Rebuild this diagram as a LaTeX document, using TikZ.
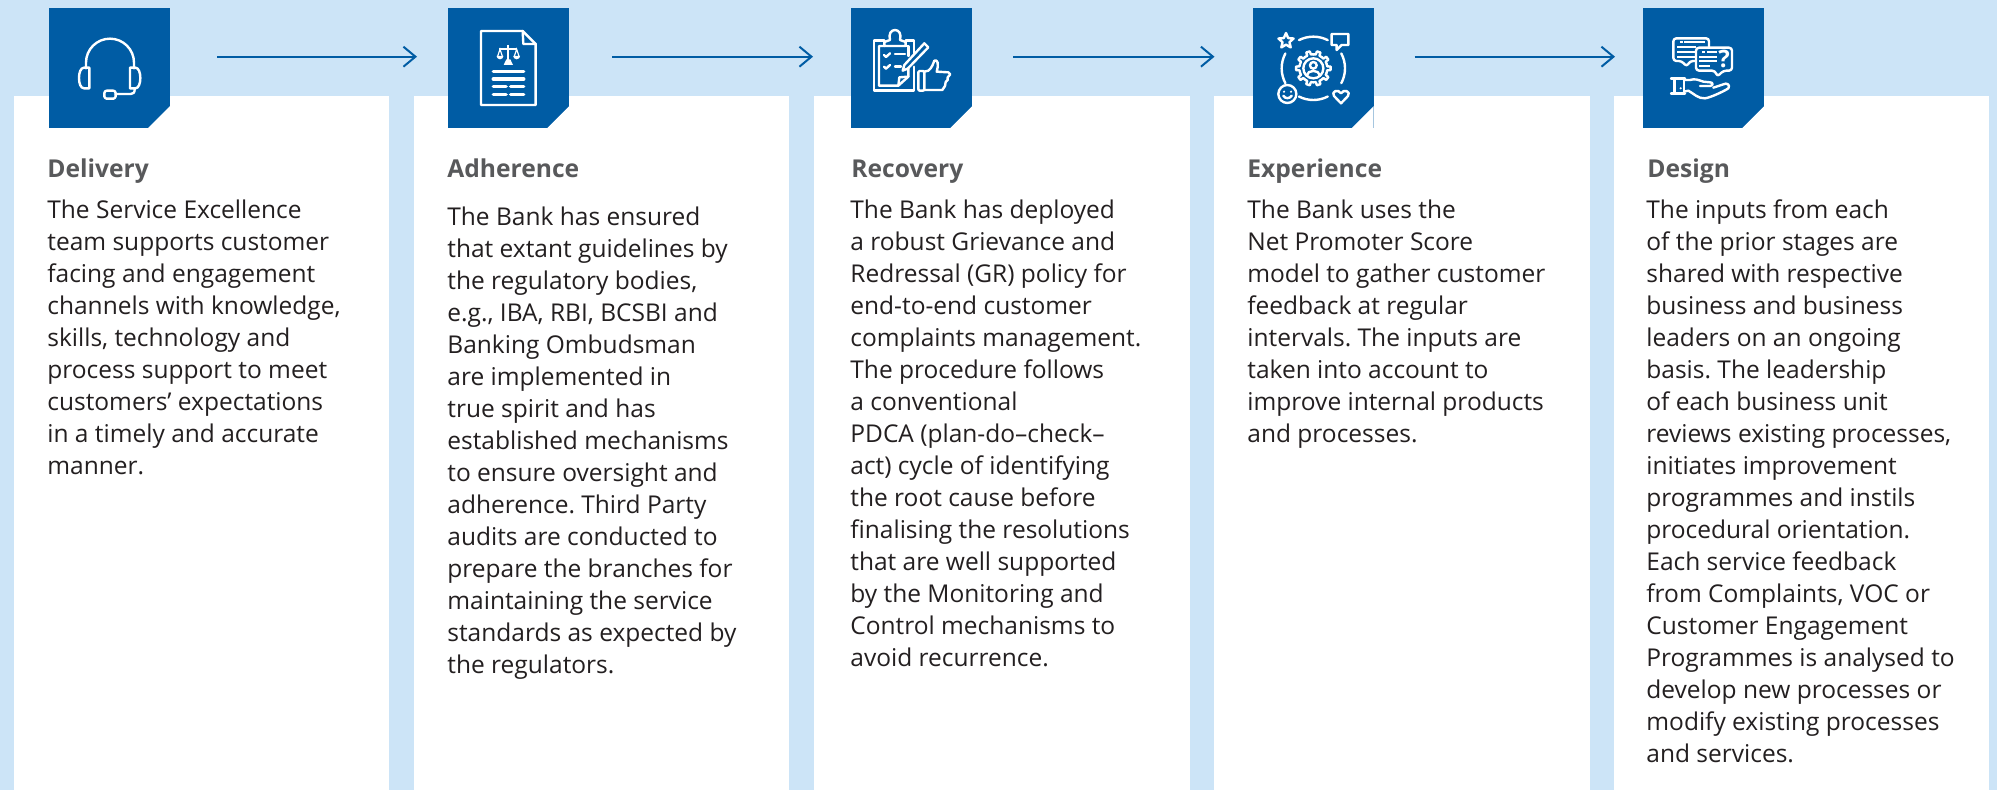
\documentclass[tikz,border=0pt]{standalone}
\usepackage{fontspec}
\setmainfont{Open Sans}
\usetikzlibrary{arrows.meta}
\definecolor{iconblue}{HTML}{005CA4}
\definecolor{skyblue}{HTML}{CCE4F7}
\definecolor{headgrey}{HTML}{58595B}
\definecolor{bodyblack}{HTML}{231F20}
\tikzset{
  iconbox/.style={rectangle, fill=iconblue, draw=none, minimum width=60.5pt, minimum height=60.25pt, inner sep=0pt, outer sep=0pt,
    path picture={\fill[white] (path picture bounding box.south east) ++(-12pt,-1pt) -- ++(13pt,13pt) -- ++(0pt,-13pt) -- cycle;}},
  flowline/.style={iconblue, line width=1pt, -{Straight Barb[length=6pt,width=10pt,line width=1pt]}},
  headtext/.style={anchor=base west, inner sep=0pt, text=headgrey, font=\fontsize{12.3}{16}\selectfont\bfseries},
  bodytext/.style={anchor=north west, inner sep=0pt, align=left, text=bodyblack, font=\fontsize{12.25}{16}\selectfont},
  cropscale/.style={x=0.16667pt, y=-0.16667pt},
  iconline/.style={white, line width=1.2pt, line join=round, line cap=round},
  iconbar/.style={white, line width=1.8pt, line cap=round}
}

\begin{document}
\frenchspacing
\begin{tikzpicture}[x=0.5pt,y=-0.5pt]
   \fill[skyblue] (0,0) rectangle (1997,790);
   \useasboundingbox (0,0) rectangle (1997,790);
   \fill[white] (  14,96) rectangle ( 389,790);
   \fill[white] ( 414,96) rectangle ( 789,790);
   \fill[white] ( 814,96) rectangle (1190,790);
   \fill[white] (1214,96) rectangle (1590,790);
   \fill[white] (1614,96) rectangle (1989,790);

   \node[iconbox] (delivery)   at ( 109.5,68) {};
   \node[iconbox] (adherence)  at ( 508.5,68) {};
   \node[iconbox] (recovery)   at ( 911.5,68) {};
   \node[iconbox] (experience) at (1313,68) {};
   \node[iconbox] (design)     at (1703.5,68) {};

   \draw[flowline] ([shift={(47,-11.3)}]delivery.east)   -- ([shift={(-31,-11.3)}]adherence.west);
   \draw[flowline] ([shift={(43,-11.3)}]adherence.east)  -- ([shift={(-38,-11.3)}]recovery.west);
   \draw[flowline] ([shift={(41,-11.3)}]recovery.east)   -- ([shift={(-38,-11.3)}]experience.west);
   \draw[flowline] ([shift={(41,-11.3)}]experience.east) -- ([shift={(-28,-11.3)}]design.west);

   \begin{scope}[shift={(60,20)},cropscale]
    \draw[iconline] (78,145) -- (78,128) arc (180:360:72) -- (222,145);
    \draw[iconline] (88,143) -- (88,205) -- (72,205) .. controls (62,205) and (57,190) .. (57,174) .. controls (57,158) and (62,143) .. (72,143) -- cycle;
    \draw[iconline] (210,143) -- (210,205) -- (226,205) .. controls (236,205) and (241,190) .. (241,174) .. controls (241,158) and (236,143) .. (226,143) -- cycle;
    \draw[iconline] (224,205) -- (224,208) .. controls (224,218) and (220,222) .. (212,222) -- (167,222);
    \draw[iconline,rounded corners=1.2pt] (133,212) rectangle (167,236);
   \end{scope}

   \begin{scope}[shift={(470,20)},cropscale]
    \draw[iconline] (158,33) -- (33,33) -- (33,255) -- (197,255) -- (197,72) -- cycle;
    \draw[iconline] (158,33) -- (160,72) -- (197,72);
    \draw[white,line width=0.9pt] (115,75) -- (115,125);
    \draw[white,line width=0.9pt] (88,88) -- (142,88);
    \draw[white,line width=0.6pt] (82,112) -- (90,88) -- (98,112);
    \draw[white,line width=0.6pt] (132,112) -- (140,88) -- (148,112);
    \fill[white] (80,108) arc (180:0:10) -- cycle;
    \fill[white] (130,108) arc (180:0:10) -- cycle;
    \fill[white] (101,135) -- (129,135) -- (121,118) -- (109,118) -- cycle;
    \draw[iconbar] (70,155) -- (161,155);
    \draw[iconbar] (70,177) -- (161,177);
    \draw[iconbar] (70,200) -- (108,200);
    \draw[iconbar] (122,200) -- (161,200);
    \draw[iconbar] (70,224) -- (108,224);
    \draw[iconbar] (122,224) -- (161,224);
   \end{scope}

   \begin{scope}[shift={(865,20)},cropscale]
    \draw[iconline] (58,62) -- (27,62) -- (27,212) -- (147,212) -- (147,140);
    \draw[iconline] (122,62) -- (147,62) -- (147,100);
    \draw[iconline] (58,78) -- (42,78) -- (42,197) -- (100,197) -- (130,170) -- (130,145);
    \draw[iconline] (122,78) -- (130,78) -- (130,108);
    \draw[iconline] (100,197) -- (103,172) -- (130,170);
    \draw[iconline] (58,78) -- (58,66) -- (75,60) .. controls (70,42) and (78,30) .. (90,30) .. controls (102,30) and (110,42) .. (105,60) -- (122,66) -- (122,78) -- cycle;
    \draw[iconline] (57,105) -- (63,111) -- (75,100);
    \draw[iconline] (57,140) -- (63,146) -- (75,135);
    \draw[iconline] (90,102) -- (120,102);
    \draw[iconline] (90,139) -- (108,139);
    \draw[iconline] (178,70) -- (190,82) -- (128,146) -- (113,152) -- (118,135) -- cycle;
    \draw[iconline,rounded corners=0.6pt] (160,153) rectangle (178,212);
    \draw[iconline] (178,155) -- (190,152) .. controls (200,145) and (205,130) .. (208,122) .. controls (218,118) and (222,130) .. (215,155) -- (250,157) -- (256,163) -- (248,172) -- (248,180) -- (242,186) -- (240,198) -- (232,210) -- (178,210);
   \end{scope}

   \begin{scope}[shift={(1265,25)},cropscale]
    \draw[iconline] ([shift={(145,130)}]243:95) arc (243:297:95);
    \draw[iconline] ([shift={(145,130)}]-28:95) arc (-28:28:95);
    \draw[iconline] ([shift={(145,130)}]63:95) arc (63:117:95);
    \draw[iconline] ([shift={(145,130)}]152:95) arc (152:208:95);
    \draw[iconline,shift={(63,48)}] (-90:24) -- (-54:11) -- (-18:24) -- (18:11) -- (54:24) -- (90:11) -- (126:24) -- (162:11) -- (198:24) -- (234:11) -- cycle;
    \draw[iconline] (200,27) -- (250,27) -- (250,60) -- (230,60) -- (215,75) -- (215,60) -- (200,60) -- cycle;
    \draw[iconline] (67,207) circle[radius=27];
    \fill[white] (57,200) circle[radius=3.5];
    \fill[white] (78,200) circle[radius=3.5];
    \draw[iconline] (55,212) .. controls (60,222) and (74,222) .. (80,212);
    \draw[iconline] (228,235) -- (207,213) .. controls (197,200) and (220,190) .. (228,205) .. controls (236,190) and (259,200) .. (249,213) -- cycle;
    \begin{scope}[shift={(145,130)}]
     \foreach \tooth in {0,36,...,324}
      \draw[iconline] (\tooth-18:42) -- (\tooth-8:42) -- (\tooth-6:52) -- (\tooth+6:52) -- (\tooth+8:42) -- (\tooth+18:42);
     \draw[iconline] (0,0) circle[radius=30];
     \draw[iconline] (0,-9) circle[radius=10];
     \draw[iconline] (-20,22) .. controls (-18,3) and (18,3) .. (20,22);
    \end{scope}
   \end{scope}

   \begin{scope}[shift={(1660,25)},cropscale]
    \draw[iconline,rounded corners=1.5pt] (40,40) -- (147,40) -- (147,108) -- (90,108) -- (80,125) -- (65,108) -- (40,108) -- cycle;
    \fill[white] (60,48) rectangle (68,54);
    \fill[white] (73,48) rectangle (135,54);
    \fill[white] (50,62) rectangle (107,68);
    \fill[white] (50,77) rectangle (107,83);
    \fill[white] (50,92) rectangle (107,98);
    \draw[iconline,fill=iconblue,rounded corners=1.5pt] (108,68) -- (216,68) -- (216,137) -- (190,137) -- (172,155) -- (165,137) -- (108,137) -- cycle;
    \fill[white] (125,78) rectangle (135,84);
    \fill[white] (140,78) rectangle (172,84);
    \fill[white] (118,92) rectangle (172,98);
    \fill[white] (118,106) rectangle (172,112);
    \fill[white] (118,120) rectangle (150,126);
    \node[inner sep=0pt,text=white,font=\fontsize{12}{12}\selectfont\bfseries] (ask) at (192,103) {?};
    \draw[iconline] (33,160) -- (75,160);
    \draw[iconline] (33,205) -- (75,205);
    \draw[iconline] (44,160) -- (44,205);
    \draw[iconline] (72,160) -- (72,205);
    \fill[white] (62,190) circle[radius=3.5];
    \draw[iconline] (72,165) -- (90,165) .. controls (105,160) and (115,165) .. (130,170) -- (150,172) .. controls (160,172) and (160,182) .. (150,183) -- (120,183);
    \draw[iconline] (72,200) -- (85,197) .. controls (100,205) and (115,222) .. (135,220) .. controls (150,218) and (190,200) .. (205,190) .. controls (212,180) and (200,172) .. (190,178) -- (160,188);
   \end{scope}

   \node[headtext] (deliveryhead)   at (  47,178) {Delivery};
   \node[headtext] (adherencehead)  at ( 447,178) {Adherence};
   \node[headtext] (recoveryhead)   at ( 851,178) {Recovery};
   \node[headtext] (experiencehead) at (1247,178) {Experience};
   \node[headtext] (designhead)     at (1647,178) {Design};

   \node[bodytext] (deliverytext) at (47,199) {The Service Excellence\\team supports customer\\facing and engagement\\channels with knowledge,\\skills, technology and\\process support to meet\\customers’ expectations\\in a timely and accurate\\manner.};
   \node[bodytext] (adherencetext) at (447,206) {The Bank has ensured\\that extant guidelines by\\the regulatory bodies,\\e.g., IBA, RBI, BCSBI and\\Banking Ombudsman\\are implemented in\\true spirit and has\\established mechanisms\\to ensure oversight and\\adherence. Third Party\\audits are conducted to\\prepare the branches for\\maintaining the service\\standards as expected by\\the regulators.};
   \node[bodytext] (recoverytext) at (850,199) {The Bank has deployed\\a robust Grievance and\\Redressal (GR) policy for\\end-to-end customer\\complaints management.\\The procedure follows\\a conventional\\PDCA (plan-do–check–\\act) cycle of identifying\\the root cause before\\finalising the resolutions\\that are well supported\\by the Monitoring and\\Control mechanisms to\\avoid recurrence.};
   \node[bodytext] (experiencetext) at (1247,199) {The Bank uses the\\Net Promoter Score\\model to gather customer\\feedback at regular\\intervals. The inputs are\\taken into account to\\improve internal products\\and processes.};
   \node[bodytext] (designtext) at (1646,199) {The inputs from each\\of the prior stages are\\shared with respective\\business and business\\leaders on an ongoing\\basis. The leadership\\of each business unit\\reviews existing processes,\\initiates improvement\\programmes and instils\\procedural orientation.\\Each service feedback\\from Complaints, VOC or\\Customer Engagement\\Programmes is analysed to\\develop new processes or\\modify existing processes\\and services.};
  \end{tikzpicture}
\end{document}
